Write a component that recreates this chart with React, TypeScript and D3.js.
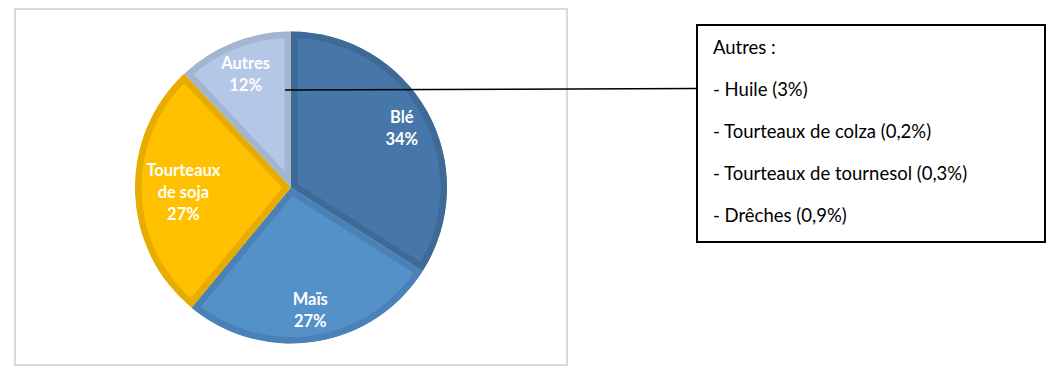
import React from "react";
import * as d3 from "d3";

const categories = ["Blé", "Maïs", "Tourteaux de soja", "Autres"];
const labelLines = [["Blé"], ["Maïs"], ["Tourteaux", "de soja"], ["Autres"]];
const values = [34, 27, 27, 12];
const fills = ["#4677a8", "#5591c9", "#ffc000", "#b4c7e7"];
const borders = ["#3d6a96", "#4a82b8", "#e6ac00", "#a3b5cf"];
const labelRadiusFactors = [0.81, 0.79, 0.69, 0.79];
const noteTitle = "Autres :";
const noteLines = [
  "- Huile (3%)",
  "- Tourteaux de colza (0,2%)",
  "- Tourteaux de tournesol (0,3%)",
  "- Drêches (0,9%)",
];

export default function App() {
  const W = 1058, H = 374;
  const cx = 291, cy = 187.5, r = 156;
  const pie = d3.pie<number>().sort(null).value((d) => d);
  const arcs = pie(values);
  const arcGen = d3.arc<d3.PieArcDatum<number>>().innerRadius(0).outerRadius(r);

  const autresAnchor = [cx - 6, cy + (-r * 0.62)];

  return (
    <svg width={W} height={H} style={{ position: "absolute", left: 0, top: 0 }}>
      <rect x={15} y={9} width={552} height={356} fill="#fff" stroke="#d9d9d9" strokeWidth={2} />
      <defs>
        {arcs.map((a, i) => (
          <clipPath id={`clip${i}`} key={i}>
            <path d={arcGen(a) || ""} transform={`translate(${cx},${cy})`} />
          </clipPath>
        ))}
      </defs>
      {arcs.map((a, i) => (
        <g key={categories[i]} clipPath={`url(#clip${i})`}>
          <path
            d={arcGen(a) || ""}
            transform={`translate(${cx},${cy})`}
            fill={fills[i]}
            stroke={borders[i]}
            strokeWidth={13}
            strokeLinejoin="miter"
          />
        </g>
      ))}
      {arcs.map((a, i) => {
        const mid = (a.startAngle + a.endAngle) / 2;
        const lr = r * labelRadiusFactors[i];
        const x = cx + Math.sin(mid) * lr;
        const y = cy - Math.cos(mid) * lr;
        const lines = [...labelLines[i], `${a.data}%`];
        const lh = 22;
        const y0 = y - ((lines.length - 1) * lh) / 2;
        return (
          <text
            key={"l" + i}
            x={x}
            textAnchor="middle"
            fill="#fff"
            fontFamily="Lato, 'Open Sans', sans-serif"
            fontWeight="bold"
            fontSize={16.5}
          >
            {lines.map((t, j) => (
              <tspan key={j} x={x} y={y0 + j * lh + 7}>
                {t}
              </tspan>
            ))}
          </text>
        );
      })}
      <line x1={autresAnchor[0]} y1={90} x2={697} y2={88.5} stroke="#000" strokeWidth={1.6} />
      <rect x={697} y={25} width={348} height={217} fill="#fff" stroke="#000" strokeWidth={2} />
      <g fontFamily="Lato, 'Open Sans', sans-serif" fontSize={18.5} fill="#000">
        {[noteTitle, ...noteLines].map((t, i) => (
          <text key={i} x={713} y={54 + i * 42}>
            {t}
          </text>
        ))}
      </g>
    </svg>
  );
}
